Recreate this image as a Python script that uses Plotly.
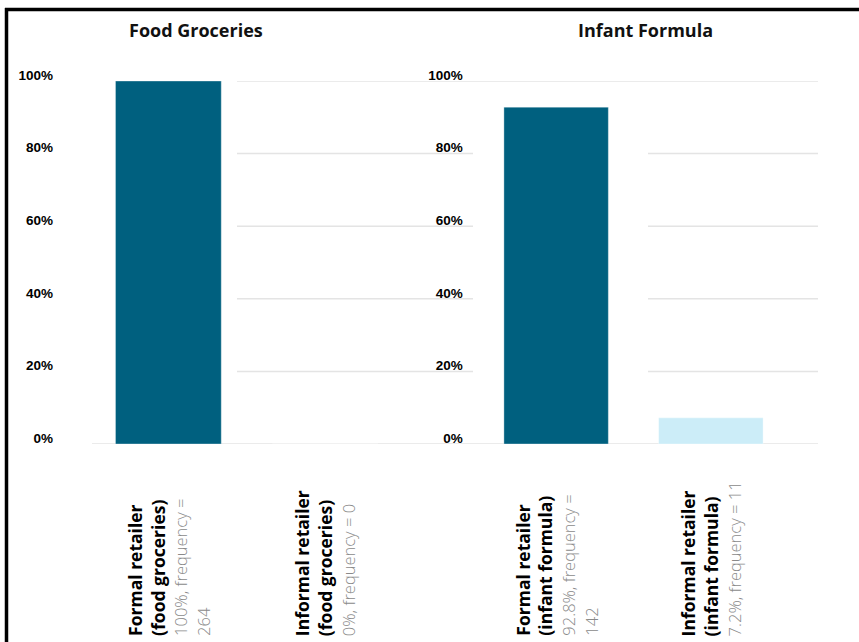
import textwrap
import plotly.graph_objects as go

# ---- data -------------------------------------------------------------
panel_titles = ["Food Groceries", "Infant Formula"]

food_names = ["Formal retailer", "Informal retailer"]
food_groups = ["(food groceries)", "(food groceries)"]
food_pct = [100, 0]
food_freq = [264, 0]

infant_names = ["Formal retailer", "Informal retailer"]
infant_groups = ["(infant formula)", "(infant formula)"]
infant_pct = [92.8, 7.2]
infant_freq = [142, 11]

y_ticks = [0, 20, 40, 60, 80, 100]
y_tick_text = ["0%", "20%", "40%", "60%", "80%", "100%"]

# ---- styling ----------------------------------------------------------
W, H = 859, 642
DARK = "#00607f"
LIGHT = "#ccedf8"
GRID = "#e4e4e4"
BAR_COLORS = [DARK, LIGHT]
FONT = "Open Sans"


def px_x(p):
    return p / W


def px_y(p):
    return 1 - p / H


def stat_line(pct, freq):
    text = f"{pct:g}%, frequency = {freq}"
    return "<br>".join(textwrap.wrap(text, 20))


def category_label(name, group, pct, freq):
    gray = "<br>".join(
        f"<span style='color:#8a8a8a;font-weight:300;font-size:16.5px'>{part}</span>"
        for part in stat_line(pct, freq).split("<br>")
    )
    return f"<b>{name}</b><br><b>{group}</b><br>{gray}"


fig = go.Figure()

panels = [
    dict(names=food_names, groups=food_groups, pct=food_pct, freq=food_freq,
         xa="x", ya="y", title_x=196, tick_stand=36),
    dict(names=infant_names, groups=infant_groups, pct=infant_pct, freq=infant_freq,
         xa="x2", ya="y2", title_x=645, tick_stand=15),
]

annotations = []
for i, p in enumerate(panels):
    keys = [f"{n} {g}" for n, g in zip(p["names"], p["groups"])]
    fig.add_trace(go.Bar(
        x=keys, y=p["pct"], xaxis=p["xa"], yaxis=p["ya"],
        marker=dict(color=BAR_COLORS, line=dict(color="rgba(255,255,255,0.35)", width=1)),
        width=0.675, showlegend=False, hoverinfo="skip",
    ))
    for k, n, g, v, f in zip(keys, p["names"], p["groups"], p["pct"], p["freq"]):
        annotations.append(dict(
            x=k, xref=p["xa"], y=px_y(638), yref="paper",
            text=category_label(n, g, v, f), textangle=-90,
            xanchor="center", yanchor="bottom", align="left", showarrow=False,
            font=dict(family=FONT, size=17.5, color="#000000"),
        ))
    annotations.append(dict(
        x=px_x(p["title_x"]), y=px_y(30), xref="paper", yref="paper",
        text=f"<b>{panel_titles[i]}</b>", showarrow=False,
        xanchor="center", yanchor="middle",
        font=dict(family=FONT, size=18, color="#111111"),
    ))

y_dom = [px_y(444), px_y(81)]
axis_common = dict(range=[0, 100], tickvals=y_ticks, ticktext=y_tick_text,
                   showgrid=False, zeroline=False, showline=False, ticks="",
                   automargin=False, ticklabelshift=-6,
                   tickfont=dict(family="Liberation Sans", size=13.5, color="#000000",
                                 weight="bold"))
x_common = dict(range=[-0.5, 1.5], showticklabels=False, automargin=False,
                showgrid=False, zeroline=False, showline=False, ticks="")

fig.update_layout(
    width=W, height=H, autosize=False, margin=dict(l=0, r=0, t=0, b=0, autoexpand=False),
    paper_bgcolor="white", plot_bgcolor="rgba(0,0,0,0)",
    xaxis=dict(domain=[px_x(90), px_x(403.5)], **x_common),
    xaxis2=dict(domain=[px_x(478.75), px_x(788.25)], **x_common),
    yaxis=dict(domain=y_dom, anchor="x", ticklabelstandoff=panels[0]["tick_stand"], **axis_common),
    yaxis2=dict(domain=y_dom, anchor="x2", ticklabelstandoff=panels[1]["tick_stand"], **axis_common),
    annotations=annotations,
)

# horizontal guide lines behind the bars
segments = []
for v in y_ticks[1:-1]:
    segments += [(v, 237, 473), (v, 648, 818)]
segments.append((y_ticks[-1], 237, 818))
segments.append((y_ticks[0], 92, 818))
for v, x0, x1 in segments:
    fig.add_shape(type="line", xref="paper", yref="y", x0=px_x(x0), x1=px_x(x1),
                  y0=v, y1=v, layer="below", line=dict(color=GRID, width=1.5))

# frame along the top and left edges
fig.add_shape(type="line", xref="paper", yref="paper", x0=px_x(5), x1=1.01,
              y0=px_y(9.5), y1=px_y(9.5), line=dict(color="#000000", width=3.5))
fig.add_shape(type="line", xref="paper", yref="paper", x0=px_x(6.5), x1=px_x(6.5),
              y0=px_y(8), y1=-0.01, line=dict(color="#000000", width=3.5))

fig.write_html("out.html", config={"displayModeBar": False, "responsive": False})
